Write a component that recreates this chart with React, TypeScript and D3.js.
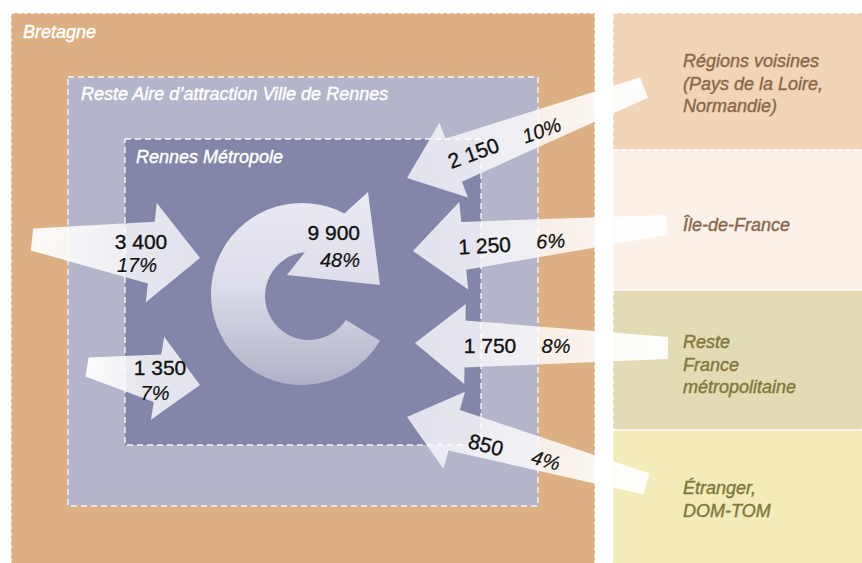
import React, { useEffect, useRef } from 'react';
import * as d3 from 'd3';

// zones (nested boxes) and origin regions (right panel)
const zoneNames = ['Bretagne', 'Reste Aire d’attraction Ville de Rennes', 'Rennes Métropole'];
const originNames = [
  ['Régions voisines', '(Pays de la Loire,', 'Normandie)'],
  ['Île-de-France'],
  ['Reste', 'France', 'métropolitaine'],
  ['Étranger,', 'DOM-TOM'],
];

// flows into Rennes Métropole
const flowNames = ['Bretagne', 'Reste aire', 'Rennes Métropole', 'Régions voisines', 'Île-de-France', 'Reste France', 'Étranger'];
const flowValues = [3400, 1350, 9900, 2150, 1250, 1750, 850];
const flowShares = [17, 7, 48, 10, 6, 8, 4];

const W = 862;
const H = 563;
const FONT = "'Liberation Sans', Arial, Helvetica, sans-serif";

const App: React.FC = () => {
  const svgRef = useRef<SVGSVGElement>(null);

  useEffect(() => {
    if (!svgRef.current) return;
    const svg = d3.select(svgRef.current);
    svg.selectAll('*').remove();
    const defs = svg.append('defs');

    const fr = d3.formatLocale({ decimal: ',', thousands: '\u00a0', grouping: [3], currency: ['', ' €'] });
    const fmt = fr.format(',');

    // layout
    const boxes = [
      { x0: 11, y0: 13, x1: 595, y1: 620, fill: '#dcb083', dash: '4,2.5' },
      { x0: 68, y0: 77, x1: 538, y1: 506, fill: '#b4b5ca', dash: '6,4' },
      { x0: 125, y0: 139, x1: 481, y1: 445, fill: '#8386a8', dash: '6,4' },
    ];
    const zoneLabelPos = [[23, 37.5], [81, 100], [136, 163]];

    const panelX = 613;
    const bandEdges = [13, 150, 290, 430, 620];
    const bandColors = ['#f2d5b6', '#fbf1e8', '#e2dbb4', '#f3ebb8'];
    const bandText = ['#8a684b', '#8a684b', '#83773c', '#83773c'];
    const bandFirstLine = [67, 231, 348, 494];
    const lineH = 22.5;

    // background boxes
    boxes.forEach(b => {
      svg.append('rect')
        .attr('x', b.x0).attr('y', b.y0)
        .attr('width', b.x1 - b.x0).attr('height', b.y1 - b.y0)
        .attr('fill', b.fill);
    });
    bandColors.forEach((c, i) => {
      svg.append('rect')
        .attr('x', panelX).attr('y', bandEdges[i])
        .attr('width', W - panelX + 10).attr('height', bandEdges[i + 1] - bandEdges[i])
        .attr('fill', c);
    });

    // straight arrows
    const arrowGeom: ({ tail: number[]; tip: number[]; tw: number; sw: number; hw: number; hl: number } | null)[] = [
      { tail: [32, 239.5], tip: [200, 258], tw: 11, sw: 31, hw: 50, hl: 49 },
      { tail: [87, 367], tip: [200, 385], tw: 9.5, sw: 24, hw: 42, hl: 43 },
      null,
      { tail: [644, 87.5], tip: [407, 178], tw: 11, sw: 23, hw: 40, hl: 50 },
      { tail: [667, 225], tip: [413, 251], tw: 10, sw: 24, hw: 44, hl: 51 },
      { tail: [668, 348], tip: [415, 343], tw: 11, sw: 23.5, hw: 40, hl: 50 },
      { tail: [646.5, 484], tip: [407, 417], tw: 11, sw: 21, hw: 40, hl: 49 },
    ];

    const line = d3.line();
    arrowGeom.forEach((g, i) => {
      if (!g) return;
      const dx = g.tip[0] - g.tail[0];
      const dy = g.tip[1] - g.tail[1];
      const L = Math.hypot(dx, dy);
      const ux = dx / L, uy = dy / L;
      const nx = -uy, ny = ux;
      const P = (s: number, t: number): [number, number] => [g.tail[0] + ux * s + nx * t, g.tail[1] + uy * s + ny * t];
      const b = L - g.hl;
      const pts = [P(0, -g.tw), P(b, -g.sw), P(b, -g.hw), P(L, 0), P(b, g.hw), P(b, g.sw), P(0, g.tw)];

      const gid = `flowGrad${i}`;
      const grad = defs.append('linearGradient')
        .attr('id', gid)
        .attr('gradientUnits', 'userSpaceOnUse')
        .attr('x1', g.tail[0]).attr('y1', g.tail[1])
        .attr('x2', g.tip[0]).attr('y2', g.tip[1]);
      grad.append('stop').attr('offset', 0).attr('stop-color', '#ffffff').attr('stop-opacity', 0.95);
      grad.append('stop').attr('offset', 0.5).attr('stop-color', '#ffffff').attr('stop-opacity', 0.8);
      grad.append('stop').attr('offset', 1).attr('stop-color', '#ededf5').attr('stop-opacity', 0.9);

      svg.append('path')
        .attr('d', line(pts) + 'Z')
        .attr('fill', `url(#${gid})`)
        .attr('data-flow', flowNames[i]);
    });

    // circular arrow (internal flows)
    const ring = { cx: 302, cy: 294, R: 91, icx: 309, icy: 296, r: 44 };
    const rad = (a: number) => (a * Math.PI) / 180;
    const outerTail = rad(31);
    const outerJoin = rad(297.7);
    const innerJoin = rad(264.6);
    const innerTail = rad(33);
    const p = d3.path();
    p.moveTo(ring.cx + ring.R * Math.cos(outerTail), ring.cy + ring.R * Math.sin(outerTail));
    p.arc(ring.cx, ring.cy, ring.R, outerTail, outerJoin, false);
    p.lineTo(368, 192);
    p.lineTo(380, 285);
    p.lineTo(287, 275);
    p.lineTo(ring.icx + ring.r * Math.cos(innerJoin), ring.icy + ring.r * Math.sin(innerJoin));
    p.arc(ring.icx, ring.icy, ring.r, innerJoin, innerTail, true);
    p.closePath();

    const rg = defs.append('linearGradient')
      .attr('id', 'ringGrad')
      .attr('gradientUnits', 'userSpaceOnUse')
      .attr('x1', 0).attr('y1', 200).attr('x2', 0).attr('y2', 388);
    rg.append('stop').attr('offset', 0).attr('stop-color', '#e8e9f1');
    rg.append('stop').attr('offset', 0.45).attr('stop-color', '#dddeea');
    rg.append('stop').attr('offset', 1).attr('stop-color', '#aeb0c7');
    svg.append('path').attr('d', p.toString()).attr('fill', 'url(#ringGrad)');

    // dashed borders on top
    boxes.forEach(b => {
      svg.append('rect')
        .attr('x', b.x0).attr('y', b.y0)
        .attr('width', b.x1 - b.x0).attr('height', b.y1 - b.y0)
        .attr('fill', 'none')
        .attr('stroke', '#ffffff')
        .attr('stroke-opacity', 0.9)
        .attr('stroke-width', 1.4)
        .attr('stroke-dasharray', b.dash);
    });
    bandColors.forEach((_, i) => {
      svg.append('rect')
        .attr('x', panelX).attr('y', bandEdges[i])
        .attr('width', W - panelX + 10).attr('height', bandEdges[i + 1] - bandEdges[i])
        .attr('fill', 'none')
        .attr('stroke', '#ffffff')
        .attr('stroke-opacity', 0.85)
        .attr('stroke-width', 1.3)
        .attr('stroke-dasharray', '5,3');
    });

    // zone labels
    zoneNames.forEach((name, i) => {
      svg.append('text')
        .attr('x', zoneLabelPos[i][0]).attr('y', zoneLabelPos[i][1])
        .style('font-family', FONT)
        .style('font-size', '18px')
        .style('font-style', 'italic')
        .style('fill', '#ffffff')
        .style('stroke', '#ffffff')
        .style('stroke-width', 0.4)
        .text(name);
    });

    // origin labels
    originNames.forEach((lines, i) => {
      lines.forEach((t, j) => {
        svg.append('text')
          .attr('x', 683).attr('y', bandFirstLine[i] + j * lineH)
          .style('font-family', FONT)
          .style('font-size', '18px')
          .style('font-style', 'italic')
          .style('fill', bandText[i])
          .style('stroke', bandText[i])
          .style('stroke-width', 0.4)
          .text(t);
      });
    });

    // flow labels: value and share
    const labelPos = [
      { v: [141, 249], s: [137, 272], rot: 0, anchor: 'middle' },
      { v: [160, 375], s: [155, 400], rot: 0, anchor: 'middle' },
      { v: [360, 240], s: [360, 267], rot: 0, anchor: 'end' },
      { v: [476, 160], s: [544, 137], rot: -20, anchor: 'middle' },
      { v: [485, 253], s: [551, 248], rot: -3, anchor: 'middle' },
      { v: [490, 353], s: [556, 353], rot: 0, anchor: 'middle' },
      { v: [484, 452], s: [544, 467], rot: 15, anchor: 'middle' },
    ];
    flowValues.forEach((val, i) => {
      const lp = labelPos[i];
      svg.append('text')
        .attr('transform', `translate(${lp.v[0]},${lp.v[1]}) rotate(${lp.rot})`)
        .attr('text-anchor', lp.anchor)
        .style('font-family', FONT)
        .style('font-size', '21px')
        .style('fill', '#111111')
        .style('stroke', '#111111')
        .style('stroke-width', 0.35)
        .text(fmt(val));
      svg.append('text')
        .attr('transform', `translate(${lp.s[0]},${lp.s[1]}) rotate(${lp.rot})`)
        .attr('text-anchor', lp.anchor)
        .style('font-family', FONT)
        .style('font-size', '20px')
        .style('font-style', 'italic')
        .style('fill', '#111111')
        .style('stroke', '#111111')
        .style('stroke-width', 0.2)
        .text(`${flowShares[i]}%`);
    });
  }, []);

  return (
    <svg
      ref={svgRef}
      width={W}
      height={H}
      style={{ position: 'absolute', left: 0, top: 0, background: '#ffffff', display: 'block' }}
    />
  );
};

export default App;
